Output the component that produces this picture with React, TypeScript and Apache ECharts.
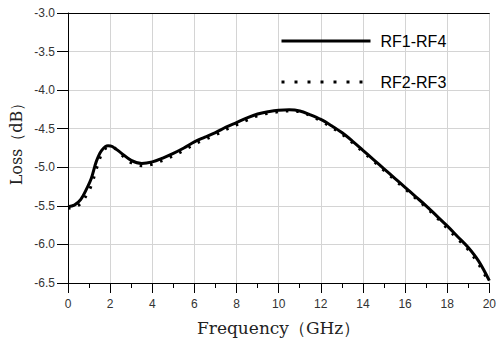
import React, { useEffect, useRef } from "react";
import * as echarts from "echarts";

const freq = [0, 0.3, 0.6, 0.9, 1.1, 1.35, 1.6, 1.9, 2.1, 2.5, 3.0, 3.5, 4.0, 4.5, 5.0, 5.5, 6.0, 6.5, 7.0, 7.5, 8.0, 8.5, 9.0, 9.5, 10.0, 10.5, 11.0, 11.5, 12.0, 12.5, 13.0, 13.5, 14.0, 14.5, 15.0, 15.5, 16.0, 16.5, 17.0, 17.5, 18.0, 18.5, 19.0, 19.5, 20.0];
const rf14 = [-5.51, -5.49, -5.42, -5.27, -5.15, -4.92, -4.78, -4.72, -4.73, -4.81, -4.91, -4.95, -4.93, -4.88, -4.82, -4.75, -4.67, -4.61, -4.55, -4.48, -4.42, -4.36, -4.31, -4.28, -4.26, -4.255, -4.27, -4.32, -4.38, -4.46, -4.55, -4.66, -4.78, -4.9, -5.02, -5.14, -5.26, -5.38, -5.5, -5.63, -5.76, -5.9, -6.04, -6.22, -6.47];
const rf23 = [-5.53, -5.52, -5.47, -5.35, -5.24, -5.02, -4.83, -4.74, -4.74, -4.83, -4.94, -4.98, -4.96, -4.91, -4.85, -4.78, -4.7, -4.64, -4.58, -4.51, -4.45, -4.39, -4.33, -4.3, -4.28, -4.27, -4.28, -4.33, -4.4, -4.48, -4.57, -4.68, -4.8, -4.92, -5.04, -5.16, -5.28, -5.4, -5.52, -5.65, -5.79, -5.93, -6.07, -6.26, -6.5];
const seriesNames = ["RF1-RF4", "RF2-RF3"];
const xTitle = "Frequency（GHz）";
const yTitle = "Loss（dB）";

export default function App() {
  const ref = useRef<HTMLDivElement>(null);
  useEffect(() => {
    if (!ref.current) return;
    const chart = echarts.init(ref.current, undefined, { renderer: "svg" });
    const pairs = (ys: number[]) => freq.map((f, i) => [f, ys[i]]);
    const labelStyle = { color: "#333", fontFamily: "Liberation Sans", fontSize: 12 };
    chart.setOption({
      animation: false,
      backgroundColor: "#fff",
      grid: { left: 68, right: 5, top: 13, bottom: 60, containLabel: false },
      legend: {
        orient: "vertical",
        left: 275,
        top: 28,
        itemWidth: 89,
        itemHeight: 14,
        itemGap: 25,
        textStyle: { color: "#000", fontFamily: "Liberation Sans", fontSize: 16, padding: [0, 0, 7, 5] },
        data: [
          { name: seriesNames[0], itemStyle: { opacity: 0 }, lineStyle: { width: 3, color: "#000", type: "solid" } },
          { name: seriesNames[1], itemStyle: { opacity: 0 }, lineStyle: { width: 3, color: "#000", type: [3, 10] } },
        ],
      },
      graphic: [
        {
          type: "text",
          x: 16,
          y: 140,
          rotation: Math.PI / 2,
          style: {
            text: yTitle,
            fill: "#222",
            font: "16px 'DejaVu Serif'",
            align: "center",
            verticalAlign: "middle",
          },
        },
      ],
      xAxis: [
        {
          type: "value",
          min: 0,
          max: 20,
          interval: 2,
          position: "bottom",
          name: xTitle,
          nameLocation: "middle",
          nameGap: 36,
          nameTextStyle: { color: "#222", fontFamily: "DejaVu Serif", fontSize: 17 },
          axisLine: { show: true, onZero: false, lineStyle: { color: "#000", width: 1 } },
          axisTick: { show: true, inside: false, length: 10, lineStyle: { color: "#000" } },
          minorTick: { show: true, splitNumber: 2, length: 5, lineStyle: { color: "#000" } },
          axisLabel: { ...labelStyle, margin: 15 },
          splitLine: { show: true, lineStyle: { color: "#d4d4d4", width: 1 } },
        },
        {
          type: "value",
          min: 0,
          max: 20,
          interval: 2,
          position: "top",
          axisLine: { show: true, onZero: false, lineStyle: { color: "#000", width: 1 } },
          axisTick: { show: false },
          axisLabel: { show: false },
          splitLine: { show: false },
        },
      ],
      yAxis: {
        type: "value",
        min: -6.5,
        max: -3,
        interval: 0.5,
        axisLine: { show: true, onZero: false, lineStyle: { color: "#000", width: 1 } },
        axisTick: { show: true, inside: false, length: 11, lineStyle: { color: "#000" } },
        axisLabel: { ...labelStyle, margin: 13, formatter: (v: number) => v.toFixed(1) },
        splitLine: { show: true, lineStyle: { color: "#d4d4d4", width: 1 } },
      },
      series: [
        {
          name: seriesNames[0],
          type: "line",
          xAxisIndex: 0,
          data: pairs(rf14),
          smooth: 0.35,
          symbol: "none",
          showSymbol: false,
          lineStyle: { color: "#000", width: 3 },
          itemStyle: { color: "#000" },
          z: 3,
        },
        {
          name: seriesNames[1],
          type: "line",
          xAxisIndex: 0,
          data: pairs(rf23),
          smooth: 0.35,
          symbol: "none",
          showSymbol: false,
          lineStyle: { color: "#000", width: 3, type: [2.5, 8] },
          itemStyle: { color: "#000" },
          z: 2,
        },
      ],
    });
    return () => chart.dispose();
  }, []);
  return <div ref={ref} style={{ width: 499, height: 343, position: "absolute", left: 0, top: 0 }} />;
}
